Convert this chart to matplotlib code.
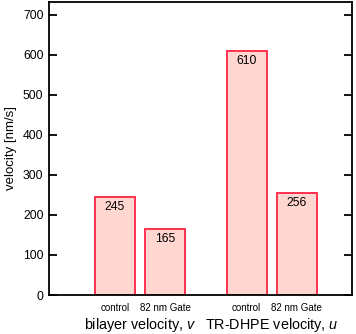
import matplotlib
matplotlib.use("Agg")
import matplotlib.pyplot as plt

plt.rcParams['font.family'] = ['Liberation Sans', 'DejaVu Sans']
plt.rcParams['mathtext.fontset'] = 'custom'
plt.rcParams['mathtext.it'] = 'Liberation Sans:italic'
plt.rcParams['mathtext.rm'] = 'Liberation Sans'

categories = ["control", "82 nm Gate", "control", "82 nm Gate"]
velocities = [245, 165, 610, 256]
positions = [0, 1, 2.63, 3.63]
groups = ["bilayer velocity, $v$", "TR-DHPE velocity, $u$"]
yticks = [0, 100, 200, 300, 400, 500, 600, 700]


def draw():
    fig = plt.figure(figsize=(3.56, 3.34), dpi=100)
    ax = fig.add_axes([49 / 356, 39 / 334, 303 / 356, 293 / 334])

    ax.bar(positions, velocities, width=0.8, color="#ffd6d0",
           edgecolor="#ff3050", linewidth=1.4)
    for x, v in zip(positions, velocities):
        ax.text(x, v - 10 / 40 * 100, str(v), ha="center", va="center",
                fontsize=8.8)

    ax.set_xlim(-1.32, 4.74)
    ax.set_ylim(0, 732)
    ax.set_yticks(yticks)
    ax.tick_params(axis="y", direction="in", length=6, width=1.3,
                   labelsize=8.8, right=True, pad=4)
    ax.tick_params(axis="x", length=0, labelsize=7, pad=6)
    ax.set_xticks(positions)
    ax.set_xticklabels(categories)
    for s in ax.spines.values():
        s.set_linewidth(1.3)

    ax.set_ylabel("velocity [nm/s]", fontsize=9.5, labelpad=4)
    for i, g in enumerate(groups):
        xc = (positions[2 * i] + positions[2 * i + 1]) / 2
        ax.text(xc, -0.102, g, transform=ax.get_xaxis_transform(),
                ha="center", va="center", fontsize=10.4)

    fig.savefig("out.png", dpi=100)


draw()
